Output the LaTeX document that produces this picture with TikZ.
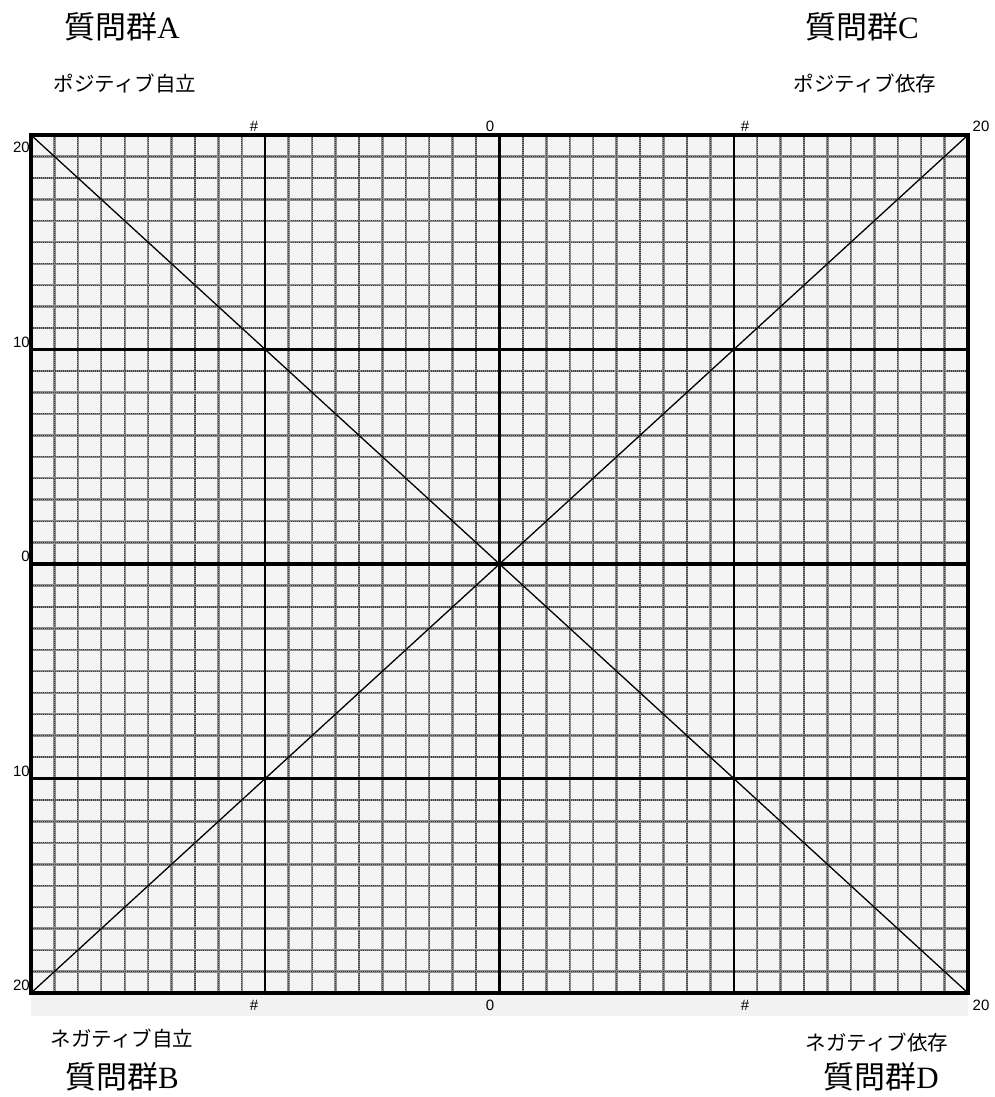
\documentclass[tikz,border=0pt]{standalone}
\usepackage{fontspec}
\setmainfont{Liberation Sans}
\newfontfamily\jpfont{Noto Sans CJK JP}
\newfontfamily\serfont{Liberation Serif}
\definecolor{cellgray}{HTML}{F4F4F4}
\definecolor{bandgray}{HTML}{F2F2F2}
\tikzset{
  minorbase/.style={draw=black!45, line width=2.4pt},
  minordots/.style={draw=black!75, line width=1.2pt, dash pattern=on 1pt off 1pt},
  majorline/.style={draw=black, line width=2.2pt},
  axisline/.style={draw=black, line width=3.2pt},
  borderline/.style={draw=black, line width=4pt},
  diagline/.style={draw=black, line width=1.3pt},
  numlabel/.style={font=\fontsize{15}{17}\selectfont, inner sep=0pt},
  titlelabel/.style={font=\fontsize{31}{34}\selectfont, inner sep=0pt},
  sublabel/.style={font=\jpfont\fontsize{20.5}{24}\selectfont, inner sep=0pt}
}
\begin{document}
\begin{tikzpicture}[x=1pt,y=-1pt]
\useasboundingbox (0,0) rectangle (995,1097);
% backgrounds
\fill[bandgray] (31,993) rectangle (968,1016);
\fill[cellgray] (31,135) rectangle (968,993);
% minor grid
\foreach \i in {1,...,39}{
  \pgfmathtruncatemacro\m{mod(\i,10)}
  \ifnum\m=0\relax\else
    \pgfmathsetmacro\xx{31+\i*23.425}
    \pgfmathsetmacro\yy{135+\i*21.45}
    \draw[minorbase] (\xx,135) -- (\xx,993);
    \draw[minorbase] (31,\yy) -- (968,\yy);
    \draw[minordots] (\xx,135) -- (\xx,993);
    \draw[minordots] (31,\yy) -- (968,\yy);
  \fi
}
% major lines
\draw[majorline] (265.25,135) -- (265.25,993);
\draw[majorline] (733.75,135) -- (733.75,993);
\draw[majorline] (31,349.5) -- (968,349.5);
\draw[majorline] (31,778.5) -- (968,778.5);
% axes
\coordinate (top0) at (499.5,135);
\coordinate (bot0) at (499.5,993);
\coordinate (lef0) at (31,564);
\coordinate (rig0) at (968,564);
\draw[axisline] (top0) -- (bot0);
\draw[axisline] (lef0) -- (rig0);
% diagonals
\coordinate (tl) at (31,135);
\coordinate (tr) at (968,135);
\coordinate (bl) at (31,993);
\coordinate (br) at (968,993);
\draw[diagline] (tl) -- (br);
\draw[diagline] (bl) -- (tr);
% border
\draw[borderline] (tl) rectangle (br);
% left labels
\node[numlabel, anchor=east] (l20a) at (30,147) {20};
\node[numlabel, anchor=east] (l10a) at (30,342) {10};
\node[numlabel, anchor=east] (l0) at (30,556) {0};
\node[numlabel, anchor=east] (l10b) at (30,771) {10};
\node[numlabel, anchor=east] (l20b) at (30,985) {20};
% top labels
\node[numlabel] (t1) at (254,126) {\#};
\node[numlabel] (t2) at (490,126) {0};
\node[numlabel] (t3) at (745,126) {\#};
\node[numlabel] (t4) at (981,126) {20};
% bottom labels
\node[numlabel] (b1) at (254,1005) {\#};
\node[numlabel] (b2) at (490,1005) {0};
\node[numlabel] (b3) at (745,1005) {\#};
\node[numlabel] (b4) at (981,1005) {20};
% titles
\node[titlelabel] (qA) at (122,27) {\jpfont 質問群\serfont A};
\node[titlelabel] (qC) at (862,27) {\jpfont 質問群\serfont C};
\node[titlelabel] (qB) at (122,1077) {\jpfont 質問群\serfont B};
\node[titlelabel] (qD) at (881,1077) {\jpfont 質問群\serfont D};
\node[sublabel] (pA) at (125,84) {ポジティブ自立};
\node[sublabel] (pC) at (865,84) {ポジティブ依存};
\node[sublabel] (nB) at (122,1039) {ネガティブ自立};
\node[sublabel] (nD) at (877,1043) {ネガティブ依存};
\end{tikzpicture}
\end{document}
